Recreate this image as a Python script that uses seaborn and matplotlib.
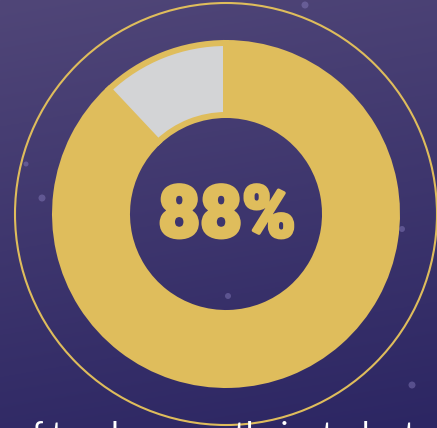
import numpy as np
import matplotlib.pyplot as plt
import matplotlib.patheffects as pe
import seaborn as sns
from matplotlib.patches import Circle

# data
labels = ['Yes', 'No']
shares = [88, 12]
center_label = '88%'
caption = 'of teachers say their students'

# decorative dots (image pixel coords)
dot_x = [305, 26, 42, 228, 402, 412]
dot_y = [5, 164, 198, 296, 229, 385]
dot_r = [3.5, 2.5, 3.5, 3, 3, 3.5]

gold = '#dfbd5c'
gray = '#d3d4d6'

sns.set_style('white')
plt.rcParams['font.family'] = ['Lato', 'DejaVu Sans']

W, H = 437, 428
cx, cy = 226, H - 214

fig = plt.figure(figsize=(W / 100, H / 100), dpi=100)
ax = fig.add_axes([0, 0, 1, 1])

# background gradient
top = np.array([80, 70, 120]) / 255
bottom = np.array([44, 38, 99]) / 255
yy, xx = np.mgrid[0:1:200j, 0:1:200j]
t = np.clip(0.85 * yy + 0.15 * xx, 0, 1)[..., None]
grad = top * (1 - t) + bottom * t
ax.imshow(grad, extent=[0, W, 0, H], origin='upper', aspect='auto', zorder=0)

for x, y, r in zip(dot_x, dot_y, dot_r):
    ax.add_patch(Circle((x, H - y), r, color='#8a80c0', alpha=0.45, lw=0, zorder=1))

# thin outer ring
ax.add_patch(Circle((cx, cy), 211, fill=False, edgecolor=gold, lw=1.5, zorder=2))

# donut
wedges, _ = ax.pie(shares, labels=None, colors=[gold, gray], startangle=90,
                   counterclock=False, radius=171, center=(cx, cy), frame=True,
                   wedgeprops=dict(width=72, edgecolor=gold, linewidth=4.3))
for w in wedges:
    w.set_zorder(3)

ax.text(cx + 1, H - 237, center_label, color=gold, fontsize=52, fontweight='black',
        family=['Roboto', 'DejaVu Sans'], ha='center', va='baseline', zorder=4,
        path_effects=[pe.withStroke(linewidth=2.5, foreground=gold)])

ax.text(222, H - 445, caption, color='white', fontsize=23,
        ha='center', va='baseline', zorder=4)

ax.set_xlim(0, W)
ax.set_ylim(0, H)
ax.set_aspect('auto')
ax.axis('off')

fig.savefig('out.png', dpi=100)
